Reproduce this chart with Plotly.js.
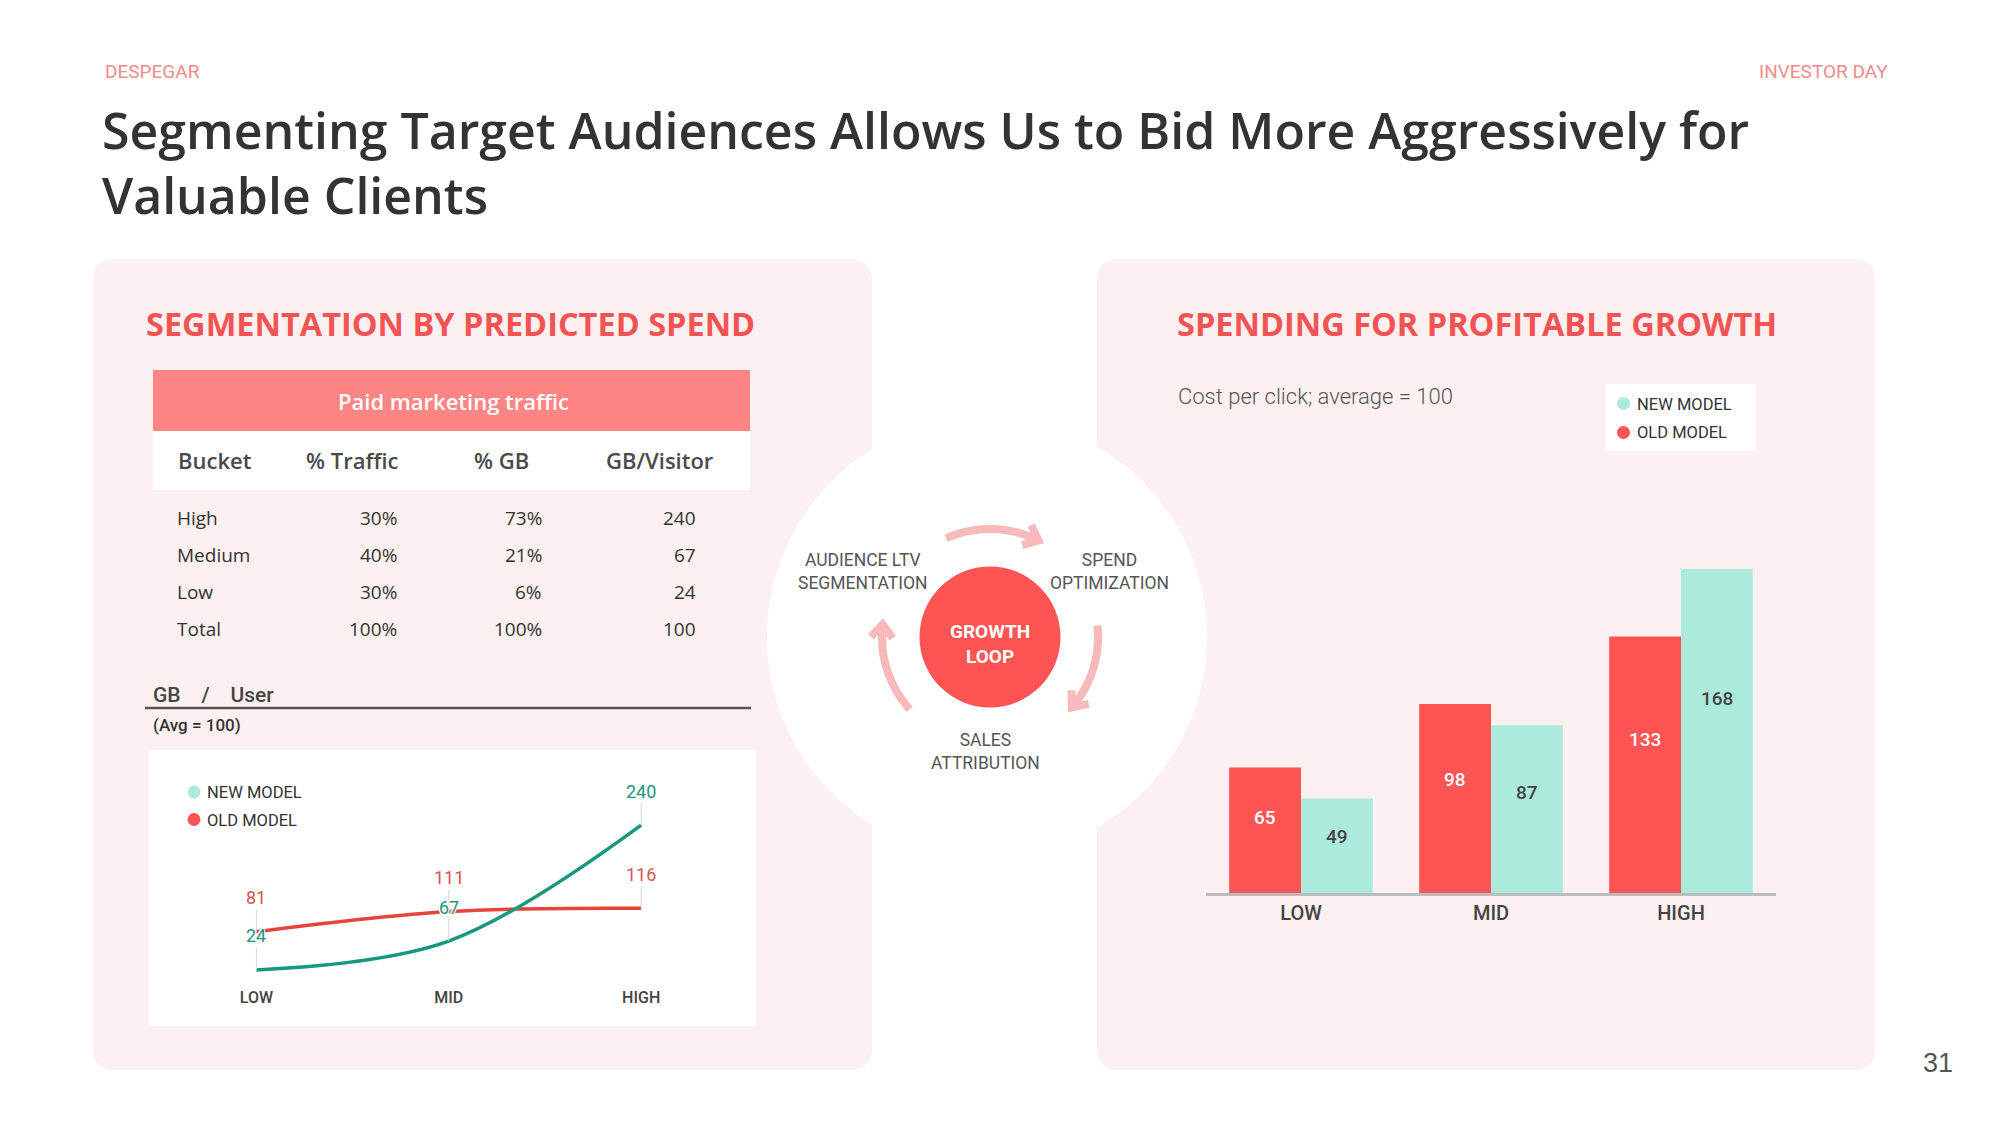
<!DOCTYPE html>
<html><head><meta charset="utf-8">
<script src="https://cdn.plot.ly/plotly-3.0.1.min.js"></script>
<style>html,body{margin:0;padding:0;background:#fff;}#chart{width:2000px;height:1125px;}</style>
</head><body><div id="chart"></div>
<script>
// ---------------- data ----------------
const tableHeaders = ['Bucket', '% Traffic', '% GB', 'GB/Visitor'];
const buckets = ['High', 'Medium', 'Low', 'Total'];
const trafficShare = ['30%', '40%', '30%', '100%'];
const gbShare = ['73%', '21%', '6%', '100%'];
const gbPerVisitor = ['240', '67', '24', '100'];

const segments = ['LOW', 'MID', 'HIGH'];
const gbUserNew = [24, 67, 240];
const gbUserOld = [81, 111, 116];

const cpcOld = [65, 98, 133];
const cpcNew = [49, 87, 168];

const seriesNames = ['NEW MODEL', 'OLD MODEL'];
const loopSteps = ['AUDIENCE LTV<br>SEGMENTATION', 'SPEND<br>OPTIMIZATION', 'SALES<br>ATTRIBUTION'];

// ---------------- helpers ----------------
const W = 2000, H = 1125;
const fx = x => x / W;
const fy = y => 1 - y / H;
const FONT = 'Roboto, "Open Sans", sans-serif';
const FONT2 = '"Open Sans", Roboto, sans-serif';
const RED = '#FF5454', MINT = '#ACEBDC', PANEL = '#FDF0F0', ARROW = '#F7B9B9';

function P(x, y) { return fx(x).toFixed(5) + ',' + fy(y).toFixed(5); }
function roundRect(x0, y0, x1, y1, r) {
  return 'M' + P(x0 + r, y0) + ' L' + P(x1 - r, y0) + ' Q' + P(x1, y0) + ' ' + P(x1, y0 + r) +
    ' L' + P(x1, y1 - r) + ' Q' + P(x1, y1) + ' ' + P(x1 - r, y1) +
    ' L' + P(x0 + r, y1) + ' Q' + P(x0, y1) + ' ' + P(x0, y1 - r) +
    ' L' + P(x0, y0 + r) + ' Q' + P(x0, y0) + ' ' + P(x0 + r, y0) + ' Z';
}
function rectShape(x0, y0, x1, y1, color) {
  return {type: 'rect', xref: 'paper', yref: 'paper', x0: fx(x0), x1: fx(x1), y0: fy(y1), y1: fy(y0),
    fillcolor: color, line: {width: 0}, layer: 'below'};
}
function circleShape(cx, cy, r, color) {
  return {type: 'circle', xref: 'paper', yref: 'paper', x0: fx(cx - r), x1: fx(cx + r), y0: fy(cy + r), y1: fy(cy - r),
    fillcolor: color, line: {width: 0}, layer: 'below'};
}
function pathShape(path, fill, lineColor, lineWidth) {
  return {type: 'path', xref: 'paper', yref: 'paper', path: path, fillcolor: fill,
    line: {color: lineColor, width: lineWidth}, layer: 'below'};
}
// clockwise arc (decreasing angle) with chevron head at the end
function arcArrow(cx, cy, r, a0, a1) {
  const pts = [];
  const n = 30;
  for (let i = 0; i <= n; i++) {
    const a = (a0 + (a1 - a0) * i / n) * Math.PI / 180;
    pts.push([cx + r * Math.cos(a), cy - r * Math.sin(a)]);
  }
  const arc = 'M' + pts.map(p => P(p[0], p[1])).join(' L');
  const ae = a1 * Math.PI / 180;
  const d = [Math.sin(ae), Math.cos(ae)];
  const nrm = [-d[1], d[0]];
  const end = [cx + r * Math.cos(ae), cy - r * Math.sin(ae)];
  const tip = [end[0] + d[0] * 5, end[1] + d[1] * 5];
  const b1 = [tip[0] - d[0] * 13 + nrm[0] * 11, tip[1] - d[1] * 13 + nrm[1] * 11];
  const b2 = [tip[0] - d[0] * 13 - nrm[0] * 11, tip[1] - d[1] * 13 - nrm[1] * 11];
  const head = 'M' + P(b1[0], b1[1]) + ' L' + P(tip[0], tip[1]) + ' L' + P(b2[0], b2[1]);
  return [pathShape(arc, 'rgba(0,0,0,0)', ARROW, 8), pathShape(head, 'rgba(0,0,0,0)', ARROW, 8)];
}
function txt(text, x, y, xanchor, size, color, weight, family) {
  return {text: text, xref: 'paper', yref: 'paper', x: fx(x), y: fy(y), xanchor: xanchor, yanchor: 'middle',
    showarrow: false, align: xanchor === 'right' ? 'right' : (xanchor === 'left' ? 'left' : 'center'),
    font: {family: family || FONT, size: size, color: color, weight: weight || 400}};
}

// ---------------- shapes ----------------
const shapes = [];
shapes.push(pathShape(roundRect(93, 259, 872, 1070, 22), PANEL, PANEL, 0));
shapes.push(pathShape(roundRect(1097, 259, 1875, 1070, 22), PANEL, PANEL, 0));
shapes.push(circleShape(987, 637, 220, '#FFFFFF'));
shapes.push(circleShape(990, 637, 70.5, RED));
shapes.push(...arcArrow(990, 637, 108, 114, 66));
shapes.push(...arcArrow(990, 637, 108, 6, -38));
shapes.push(...arcArrow(990, 637, 108, 222, 176));
// table blocks
shapes.push(rectShape(153, 370, 750, 431, '#FF8585'));
shapes.push(rectShape(153, 431, 750, 490, '#FFFFFF'));
// GB / User rule
shapes.push({type: 'line', xref: 'paper', yref: 'paper', x0: fx(145), x1: fx(751), y0: fy(708), y1: fy(708),
  line: {color: '#555555', width: 2.5}, layer: 'below'});
// line chart box
shapes.push(rectShape(148.5, 750, 756, 1026, '#FFFFFF'));
// legend dots left
shapes.push(circleShape(194, 792, 6.5, MINT));
shapes.push(circleShape(194, 819.5, 6.5, RED));
// legend box right
shapes.push(rectShape(1605, 384, 1756, 451, '#FFFFFF'));
shapes.push(circleShape(1623.5, 403.5, 6.5, MINT));
shapes.push(circleShape(1623.5, 432.5, 6.5, RED));

// ---------------- annotations ----------------
const ann = [];
ann.push(txt('DESPEGAR', 103, 71, 'left', 19, '#F28B8B', 400));
ann.push(txt('INVESTOR DAY', 1890, 71, 'right', 19, '#F28B8B', 400));
ann.push(txt('SEGMENTATION BY PREDICTED SPEND', 144, 323, 'left', 32.5, '#F25454', 700, FONT2));
ann.push(txt('SPENDING FOR PROFITABLE GROWTH', 1175, 323, 'left', 32.5, '#F25454', 700, FONT2));
ann.push(txt('Paid marketing traffic', 453, 401, 'center', 22, '#FFFFFF', 600, FONT2));
// table header row
const hdrX = [176, 352, 501, 660];
const hdrA = ['left', 'center', 'center', 'center'];
tableHeaders.forEach((h, i) => ann.push(txt(h, hdrX[i], 460, hdrA[i], 22, '#4A4A4A', 600, FONT2)));
// table body
const rowY = [517.5, 554.5, 591.5, 628.5];
buckets.forEach((b, i) => {
  ann.push(txt(b, 175, rowY[i], 'left', 19, '#333333', 400, FONT2));
  ann.push(txt(trafficShare[i], 399, rowY[i], 'right', 19, '#333333', 400, FONT2));
  ann.push(txt(gbShare[i], 544, rowY[i], 'right', 19, '#333333', 400, FONT2));
  ann.push(txt(gbPerVisitor[i], 698, rowY[i], 'right', 19, '#333333', 400, FONT2));
});
ann.push(txt('GB &nbsp;&nbsp;&nbsp;/&nbsp;&nbsp;&nbsp; User', 151, 695, 'left', 21, '#444444', 500));
ann.push(txt('(Avg = 100)', 151, 725, 'left', 17, '#333333', 500));
ann.push(txt(seriesNames[0], 205, 792.5, 'left', 16.5, '#333333', 400));
ann.push(txt(seriesNames[1], 205, 820, 'left', 16.5, '#333333', 400));
ann.push(txt(seriesNames[0], 1635, 404, 'left', 16.5, '#333333', 400));
ann.push(txt(seriesNames[1], 1635, 433, 'left', 16.5, '#333333', 400));
ann.push(txt('Cost per click; average = 100', 1176, 397, 'left', 22, '#555555', 300));
ann.push(txt('GROWTH<br>LOOP', 990, 644, 'center', 19, '#FFFFFF', 700));
ann.push(txt(loopSteps[0], 862.5, 571, 'center', 17.5, '#555555', 400));
ann.push(txt(loopSteps[1], 1109.5, 571, 'center', 17.5, '#555555', 400));
ann.push(txt(loopSteps[2], 985, 751, 'center', 17.5, '#555555', 400));
ann.push(txt('31', 1938, 1063, 'center', 27, '#555555', 400, '"Liberation Sans", Arial, sans-serif'));

// value labels on the line chart with leader lines
const halo = '1px 1px 0 #fff, -1px -1px 0 #fff, 1px -1px 0 #fff, -1px 1px 0 #fff, 0 2px 0 #fff, 0 -2px 0 #fff';
function valueLabel(xv, yv, color) {
  return {x: xv, y: yv, xref: 'x', yref: 'y', text: String(yv), showarrow: true, arrowhead: 0,
    arrowwidth: 1, arrowcolor: '#D6D6D6', ax: 0, ay: -34, standoff: 0,
    font: {family: FONT, size: 18, color: color, shadow: halo}};
}
segments.forEach((s, i) => {
  ann.push(valueLabel(s, gbUserOld[i], '#D9534F'));
  ann.push(valueLabel(s, gbUserNew[i], '#17977D'));
});

// bar value labels, placed inside each bar
function barLabel(xv, v, shift, color) {
  return {x: xv, y: v * 0.6, xref: 'x2', yref: 'y2', xshift: shift, text: String(v), showarrow: false,
    xanchor: 'center', yanchor: 'middle', font: {family: FONT, size: 19, color: color, weight: 500}};
}
segments.forEach((s, i) => {
  ann.push(barLabel(s, cpcOld[i], -36, '#FFFFFF'));
  ann.push(barLabel(s, cpcNew[i], 36, '#444444'));
});

// ---------------- traces ----------------
const traces = [
  {type: 'scatter', mode: 'lines', x: segments, y: gbUserOld, name: seriesNames[1], xaxis: 'x', yaxis: 'y',
    line: {color: '#E6453F', width: 3.5, shape: 'spline', smoothing: 1}, hoverinfo: 'skip', showlegend: false},
  {type: 'scatter', mode: 'lines', x: segments, y: gbUserNew, name: seriesNames[0], xaxis: 'x', yaxis: 'y',
    line: {color: '#17977D', width: 3.5, shape: 'spline', smoothing: 1}, hoverinfo: 'skip', showlegend: false},
  {type: 'bar', x: segments, y: cpcOld, name: seriesNames[1], xaxis: 'x2', yaxis: 'y2',
    marker: {color: RED}, showlegend: false},
  {type: 'bar', x: segments, y: cpcNew, name: seriesNames[0], xaxis: 'x2', yaxis: 'y2',
    marker: {color: MINT}, showlegend: false}
];

const layout = {
  width: W, height: H, autosize: false,
  margin: {l: 0, r: 0, t: 0, b: 0, pad: 0},
  paper_bgcolor: '#FFFFFF', plot_bgcolor: 'rgba(0,0,0,0)',
  font: {family: FONT, color: '#333333'},
  hovermode: false, showlegend: false,
  title: {text: 'Segmenting Target Audiences Allows Us to Bid More Aggressively for<br>Valuable Clients',
    xref: 'paper', x: fx(102), xanchor: 'left', yref: 'container', y: 1 - 149 / H, yanchor: 'top',
    font: {family: FONT2, size: 50, color: '#333333', weight: 600}},
  bargap: 0.244, bargroupgap: 0, barmode: 'group',
  xaxis: {domain: [fx(148.5), fx(756)], range: [-0.561, 2.597], type: 'category', anchor: 'y',
    showgrid: false, zeroline: false, showline: false, ticks: '', fixedrange: true,
    tickfont: {family: FONT, size: 16, color: '#444444', weight: 500}},
  yaxis: {domain: [fy(986), fy(751)], range: [0, 350.4], anchor: 'x', visible: false, fixedrange: true},
  xaxis2: {domain: [fx(1206), fx(1776)], range: [-0.5, 2.5], type: 'category', anchor: 'y2',
    showgrid: false, zeroline: false, showline: true, linecolor: '#BDBDBD', linewidth: 3, ticks: '', fixedrange: true,
    tickfont: {family: FONT, size: 20, color: '#444444', weight: 500}},
  yaxis2: {domain: [fy(893), fy(430)], range: [0, 240], anchor: 'x2', visible: false, fixedrange: true},
  shapes: shapes,
  annotations: ann
};

Plotly.newPlot('chart', traces, layout, {displayModeBar: false, staticPlot: true});
</script>
</body></html>
